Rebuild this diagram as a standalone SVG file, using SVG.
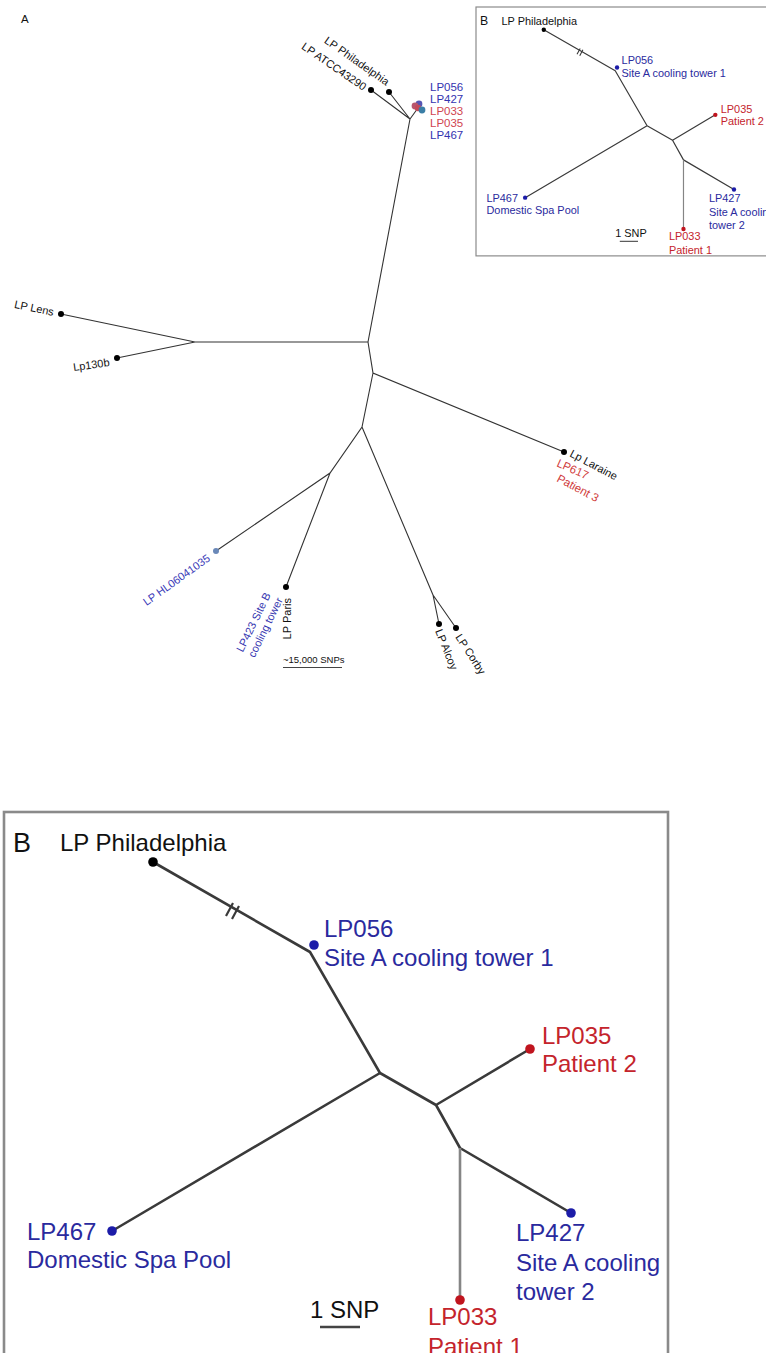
<svg xmlns="http://www.w3.org/2000/svg" width="766" height="1353" viewBox="0 0 766 1353">
<style>
text{font-family:"Liberation Sans",Arial,sans-serif}
.ta{font-size:11px;fill:#111}
.tb{font-size:11.5px;fill:#3434b0}
.tr{font-size:11.5px;fill:#d0454f}
.ea{fill:none;stroke:#333;stroke-width:1.1}
.dk{fill:#000}
.BT{font-size:24px}
.bl{fill:#2a2a9e}
.rd{fill:#c4242c}
.bk{fill:#111}
.eb{fill:none;stroke:#3a3a3a;stroke-width:2.6;stroke-linejoin:round}
.eg{fill:none;stroke:#858585;stroke-width:2.6}
.frame{fill:#fff;stroke:#8a8a8a;stroke-width:2.6}
</style>
<rect width="766" height="1353" fill="#fff"/>

<!-- Panel A -->
<text x="21" y="23" class="ta" style="font-size:11.5px">A</text>
<g id="A-edges">
<path class="ea" d="M371,90 L410,119 M389,92 L410,119 M410,119 L418,108 M410,119 L368,342 L195,342 M195,342 L61,314 M195,342 L117,358 M368,342 L373,373 L564,452 M373,373 L362,427 L330,473 L216,551 M330,473 L286,587 M362,427 L433,595 L439,624 M433,595 L456,628"/>
</g>
<g id="A-philadelphia"><circle cx="389" cy="92" r="3" class="dk"/><text class="ta" text-anchor="end" transform="translate(386,86) rotate(35)">LP Philadelphia</text></g>
<g id="A-atcc"><circle cx="371" cy="90" r="3" class="dk"/><text class="ta" text-anchor="end" transform="translate(363,91) rotate(34.5)">LP ATCC43290</text></g>
<g id="A-cluster">
<circle cx="419" cy="104" r="3.4" fill="#5656b4"/>
<circle cx="415" cy="106" r="3.4" fill="#b8566e"/>
<circle cx="418" cy="108" r="3.2" fill="#c44a5a"/>
<circle cx="422" cy="110" r="3.4" fill="#3a7ea6"/>
<text x="430" y="91" class="tb">LP056</text>
<text x="430" y="103" class="tb">LP427</text>
<text x="430" y="115" class="tr">LP033</text>
<text x="430" y="127" class="tr">LP035</text>
<text x="430" y="139" class="tb">LP467</text>
</g>
<g id="A-lens"><circle cx="61" cy="314" r="3" class="dk"/><text class="ta" text-anchor="end" transform="translate(53,316) rotate(12)">LP Lens</text></g>
<g id="A-lp130b"><circle cx="117" cy="358" r="3" class="dk"/><text class="ta" text-anchor="end" transform="translate(110,366) rotate(-8)">Lp130b</text></g>
<g id="A-laraine"><circle cx="564" cy="452" r="3" class="dk"/>
<text class="ta" transform="translate(569,456) rotate(28)">Lp Laraine</text>
<text class="tr" style="fill:#d03a3a" transform="translate(556,466) rotate(24)">LP617</text>
<text class="tr" style="fill:#d03a3a" transform="translate(556,481) rotate(28)">Patient 3</text>
</g>
<g id="A-hl"><circle cx="216" cy="551" r="3" fill="#6a88b8"/><text class="tb" style="font-size:11px;fill:#3a3ab8" text-anchor="end" transform="translate(211,560) rotate(-35.5)">LP HL06041035</text></g>
<g id="A-paris"><circle cx="286" cy="587" r="3" class="dk"/>
<text class="ta" text-anchor="end" transform="translate(291,598) rotate(-90)">LP Paris</text>
<text class="tb" style="font-size:11px" text-anchor="end" transform="translate(271,595) rotate(-64)">LP423 Site B</text>
<text class="tb" style="font-size:11px" text-anchor="end" transform="translate(283,600) rotate(-64)">cooling tower</text>
</g>
<g id="A-alcoy"><circle cx="439" cy="624" r="3" class="dk"/><text class="ta" transform="translate(435,631) rotate(68)">LP Alcoy</text></g>
<g id="A-corby"><circle cx="456" cy="628" r="3" class="dk"/><text class="ta" transform="translate(455,637) rotate(57)">LP Corby</text></g>
<g id="A-scale"><text x="283" y="663" class="ta" style="font-size:9.5px">~15,000 SNPs</text><line x1="283" y1="667.5" x2="342" y2="667.5" stroke="#444" stroke-width="1"/></g>

<!-- Panel B inset (scaled copy) -->
<g id="inset" transform="translate(476,7) scale(0.455)">
<rect x="0" y="0" width="664" height="547" class="frame"/>
<g id="inset-edges">
<path class="eb" d="M149,50 L306,140 L376,261 L108,419 M376,261 L432,293 L526,237 M432,293 L456,336 L567,401"/>
<path class="eg" d="M456,336 L456,488"/>
<path d="M222,104 L229,91 M228,107 L235,94" stroke="#3a3a3a" stroke-width="2.4"/>
</g>
<text x="9" y="40" class="bk" style="font-size:27px">B</text>
<g id="inset-philadelphia"><circle cx="149" cy="50" r="4.8" fill="#000"/><text x="56" y="39" class="BT bk">LP Philadelphia</text></g>
<g id="inset-lp056"><circle cx="310" cy="133" r="4.8" fill="#1c1ca8"/><text x="320" y="125" class="BT bl">LP056</text><text x="320" y="154" class="BT bl">Site A cooling tower 1</text></g>
<g id="inset-lp035"><circle cx="526" cy="237" r="4.8" fill="#c0141e"/><text x="538" y="232" class="BT rd">LP035</text><text x="538" y="260" class="BT rd">Patient 2</text></g>
<g id="inset-lp467"><circle cx="108" cy="419" r="4.8" fill="#1c1ca8"/><text x="23" y="428" class="BT bl">LP467</text><text x="23" y="456" class="BT bl">Domestic Spa Pool</text></g>
<g id="inset-lp427"><circle cx="567" cy="401" r="4.8" fill="#1c1ca8"/><text x="512" y="429" class="BT bl">LP427</text><text x="512" y="459" class="BT bl">Site A cooling</text><text x="512" y="488" class="BT bl">tower 2</text></g>
<g id="inset-lp033"><circle cx="456" cy="488" r="4.8" fill="#c0141e"/><text x="424" y="513" class="BT rd">LP033</text><text x="424" y="543" class="BT rd">Patient 1</text></g>
<g id="inset-scale"><text x="306" y="506" class="BT bk">1 SNP</text><line x1="316" y1="515" x2="356" y2="515" stroke="#444" stroke-width="2.4"/></g>
</g>

<!-- Panel B (large) -->
<g id="panelB" transform="translate(4,812)">
<rect x="0" y="0" width="664" height="547" class="frame"/>
<g id="B-edges">
<path class="eb" d="M149,50 L306,140 L376,261 L108,419 M376,261 L432,293 L526,237 M432,293 L456,336 L567,401"/>
<path class="eg" d="M456,336 L456,488"/>
<path d="M222,104 L229,91 M228,107 L235,94" stroke="#3a3a3a" stroke-width="2.2"/>
</g>
<text x="9" y="40" class="bk" style="font-size:27px">B</text>
<g id="B-philadelphia"><circle cx="149" cy="50" r="4.8" fill="#000"/><text x="56" y="39" class="BT bk">LP Philadelphia</text></g>
<g id="B-lp056"><circle cx="310" cy="133" r="4.8" fill="#1c1ca8"/><text x="320" y="125" class="BT bl">LP056</text><text x="320" y="154" class="BT bl">Site A cooling tower 1</text></g>
<g id="B-lp035"><circle cx="526" cy="237" r="4.8" fill="#c0141e"/><text x="538" y="232" class="BT rd">LP035</text><text x="538" y="260" class="BT rd">Patient 2</text></g>
<g id="B-lp467"><circle cx="108" cy="419" r="4.8" fill="#1c1ca8"/><text x="23" y="428" class="BT bl">LP467</text><text x="23" y="456" class="BT bl">Domestic Spa Pool</text></g>
<g id="B-lp427"><circle cx="567" cy="401" r="4.8" fill="#1c1ca8"/><text x="512" y="429" class="BT bl">LP427</text><text x="512" y="459" class="BT bl">Site A cooling</text><text x="512" y="488" class="BT bl">tower 2</text></g>
<g id="B-lp033"><circle cx="456" cy="488" r="4.8" fill="#c0141e"/><text x="424" y="513" class="BT rd">LP033</text><text x="424" y="543" class="BT rd">Patient 1</text></g>
<g id="B-scale"><text x="306" y="506" class="BT bk">1 SNP</text><line x1="316" y1="515" x2="356" y2="515" stroke="#444" stroke-width="2.4"/></g>
</g>
</svg>
